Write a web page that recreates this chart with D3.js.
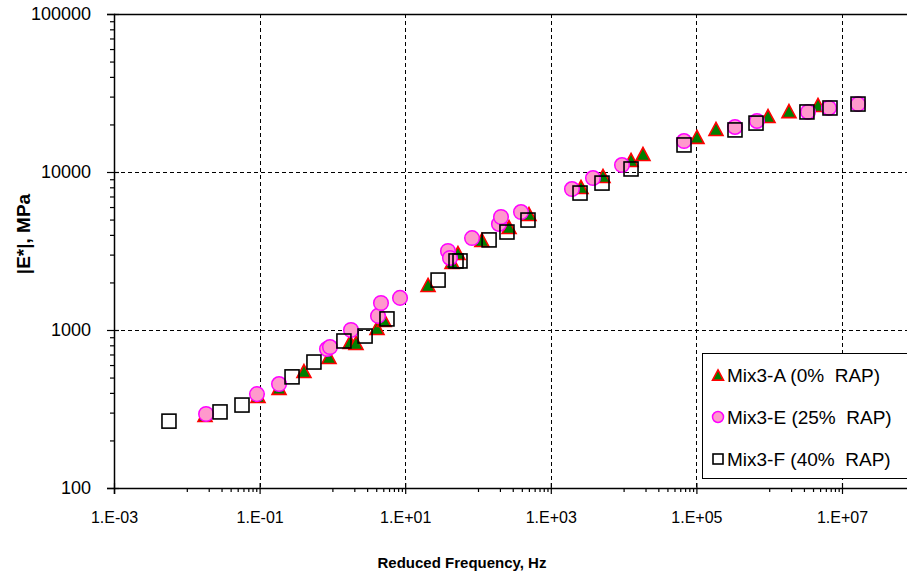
<!DOCTYPE html>
<html>
<head>
<meta charset="utf-8">
<script src="https://cdn.jsdelivr.net/npm/d3@7"></script>
<style>
  html, body { margin: 0; padding: 0; background: #fff; }
  svg { display: block; font-family: Arial, "Liberation Sans", sans-serif; }
</style>
</head>
<body>
<svg id="chart" width="907" height="578"></svg>
<script>
// Dynamic modulus master-curve data: reduced frequency (Hz) and |E*| (MPa)
const freqA = [0.0178, 0.0951, 0.185, 0.407, 0.898, 1.75, 2.11, 4.10, 5.12, 20.6, 44.0, 53.1, 113, 267, 502, 2600, 5210, 12650, 18450, 101900, 185800, 964000, 1.87e6, 4.68e6];
const modA  = [290, 382, 430, 550, 675, 840, 828, 1030, 1157, 1928, 2692, 3069, 3716, 4485, 5420, 8035, 9440, 11910, 13000, 16680, 18720, 22600, 24300, 26560];

const freqE = [0.0184, 0.0920, 0.185, 0.843, 0.927, 1.80, 4.23, 4.65, 8.49, 38.7, 41.2, 82.8, 194, 207, 390, 1954, 3800, 9510, 67600, 339000, 679000, 3.41e6, 6.62e6, 1.66e7];
const modE  = [294, 393, 455, 758, 780, 1000, 1228, 1482, 1597, 3162, 2858, 3818, 4690, 5190, 5580, 7800, 9160, 11070, 15700, 19270, 21040, 23990, 25420, 26920];

const freqF = [0.00569, 0.0286, 0.0573, 0.279, 0.558, 1.44, 2.81, 5.62, 28.3, 49.9, 56.6, 142, 250, 486, 2520, 5050, 12650, 67600, 339000, 659000, 3.30e6, 6.84e6, 1.66e7];
const modF  = [265, 303, 335, 505, 627, 852, 916, 1175, 2071, 2735, 2735, 3716, 4170, 4965, 7360, 8510, 10450, 14830, 18460, 20400, 23990, 25420, 26920];

const seriesNames = ["Mix3-A (0%  RAP)", "Mix3-E (25%  RAP)", "Mix3-F (40%  RAP)"];

const xMajor = [1e-3, 1e-1, 1e1, 1e3, 1e5, 1e7];
const xMajorLabels = ["1.E-03", "1.E-01", "1.E+01", "1.E+03", "1.E+05", "1.E+07"];
const yMajor = [100, 1000, 10000, 100000];
const yMajorLabels = ["100", "1000", "10000", "100000"];

const xTitle = "Reduced Frequency, Hz";
const yTitle = "|E*|, MPa";

const svg = d3.select("#chart");
const plotL = 114, plotT = 14, plotB = 488, decadeW = 72.8;
const plotR = plotL + 11 * decadeW;

const x = d3.scaleLog().domain([1e-3, 1e8]).range([plotL, plotR]);
const y = d3.scaleLog().domain([100, 100000]).range([plotB, plotT]);

// minor ticks: x every 1..9 in the upper decade of each 2-decade step; y 2..9 per decade
const xMinor = [];
[-2, 0, 2, 4, 6].forEach(p => { for (let k = 1; k <= 9; k++) xMinor.push(k * Math.pow(10, p)); });
const yMinor = [];
[2, 3, 4].forEach(p => { for (let k = 2; k <= 9; k++) yMinor.push(k * Math.pow(10, p)); });

// gridlines
const grid = svg.append("g").attr("stroke", "#000").attr("stroke-width", 1).attr("stroke-dasharray", "4,3");
xMajor.slice(1).forEach(v => {
  grid.append("line").attr("x1", Math.round(x(v)) + 0.5).attr("x2", Math.round(x(v)) + 0.5)
    .attr("y1", plotT).attr("y2", plotB);
});
yMajor.slice(1, 3).forEach(v => {
  grid.append("line").attr("x1", plotL).attr("x2", plotR)
    .attr("y1", Math.round(y(v)) + 0.5).attr("y2", Math.round(y(v)) + 0.5);
});

// plot frame (top edge; left and bottom come from the axes)
svg.append("line").attr("x1", plotL).attr("x2", plotR).attr("y1", plotT + 0.5).attr("y2", plotT + 0.5)
  .attr("stroke", "#000").attr("stroke-width", 1.5);

// axes: major ticks cross the axis line, minor ticks sit outside
const xAxis = svg.append("g").attr("transform", `translate(0,${plotB})`)
  .call(d3.axisBottom(x).tickValues(xMajor).tickFormat((d, i) => xMajorLabels[i]).tickSize(6).tickPadding(18));
xAxis.selectAll(".tick line").attr("y1", -5);
svg.append("g").attr("transform", `translate(0,${plotB})`)
  .call(d3.axisBottom(x).tickValues(xMinor).tickFormat("").tickSize(4))
  .call(g => g.select(".domain").remove());

const yAxis = svg.append("g").attr("transform", `translate(${plotL},0)`)
  .call(d3.axisLeft(y).tickValues(yMajor).tickFormat((d, i) => yMajorLabels[i]).tickSize(7).tickPadding(16));
yAxis.selectAll(".tick line").attr("x1", 5);
svg.append("g").attr("transform", `translate(${plotL},0)`)
  .call(d3.axisLeft(y).tickValues(yMinor).tickFormat("").tickSize(4))
  .call(g => g.select(".domain").remove());

svg.selectAll(".domain").attr("stroke", "#000").attr("stroke-width", 1.5);
svg.selectAll(".tick line").attr("stroke", "#000").attr("stroke-width", 1.2);
xAxis.selectAll("text").attr("font-size", 16).attr("fill", "#000").attr("font-family", "Arial, 'Liberation Sans', sans-serif");
yAxis.selectAll("text").attr("font-size", 18).attr("fill", "#000").attr("font-family", "Arial, 'Liberation Sans', sans-serif");

// axis titles
svg.append("text").attr("x", 462).attr("y", 568).attr("text-anchor", "middle")
  .attr("font-size", 15).attr("font-weight", "bold").text(xTitle);
svg.append("text").attr("transform", "translate(30,234) rotate(-90)").attr("text-anchor", "middle")
  .attr("font-size", 19).attr("font-weight", "bold").text(yTitle);

// marker drawers
function triangle(g, cx, cy, s) {
  const h = s * 0.93;
  g.append("path")
    .attr("d", `M${cx},${cy - h / 2} L${cx + s / 2},${cy + h / 2} L${cx - s / 2},${cy + h / 2} Z`)
    .attr("fill", "#008000").attr("stroke", "#ff0000").attr("stroke-width", 1.6).attr("stroke-linejoin", "miter");
}
function circle(g, cx, cy, r) {
  g.append("circle").attr("cx", cx).attr("cy", cy).attr("r", r)
    .attr("fill", "#ff99cc").attr("stroke", "#ff00ff").attr("stroke-width", 1.5);
}
function square(g, cx, cy, s) {
  g.append("rect").attr("x", cx - s / 2).attr("y", cy - s / 2).attr("width", s).attr("height", s)
    .attr("fill", "none").attr("stroke", "#000").attr("stroke-width", 1.6);
}

const marks = svg.append("g");
const gA = marks.append("g"), gE = marks.append("g"), gF = marks.append("g");
freqA.forEach((f, i) => triangle(gA, x(f), y(modA[i]), 14));
freqE.forEach((f, i) => circle(gE, x(f), y(modE[i]), 7.3));
freqF.forEach((f, i) => square(gF, x(f), y(modF[i]), 14));

// legend
const lg = svg.append("g");
lg.append("rect").attr("x", 702.5).attr("y", 353.5).attr("width", 230).attr("height", 125)
  .attr("fill", "#fff").attr("stroke", "#000").attr("stroke-width", 1);
const rows = [375, 417, 459];
triangle(lg, 718, rows[0], 11);
circle(lg, 718, rows[1], 5.5);
square(lg, 718, rows[2], 10);
seriesNames.forEach((n, i) => {
  lg.append("text").attr("x", 727).attr("y", rows[i]).attr("dy", "0.36em")
    .attr("font-size", 19).attr("fill", "#000").style("white-space", "pre").text(n);
});
</script>
</body>
</html>
